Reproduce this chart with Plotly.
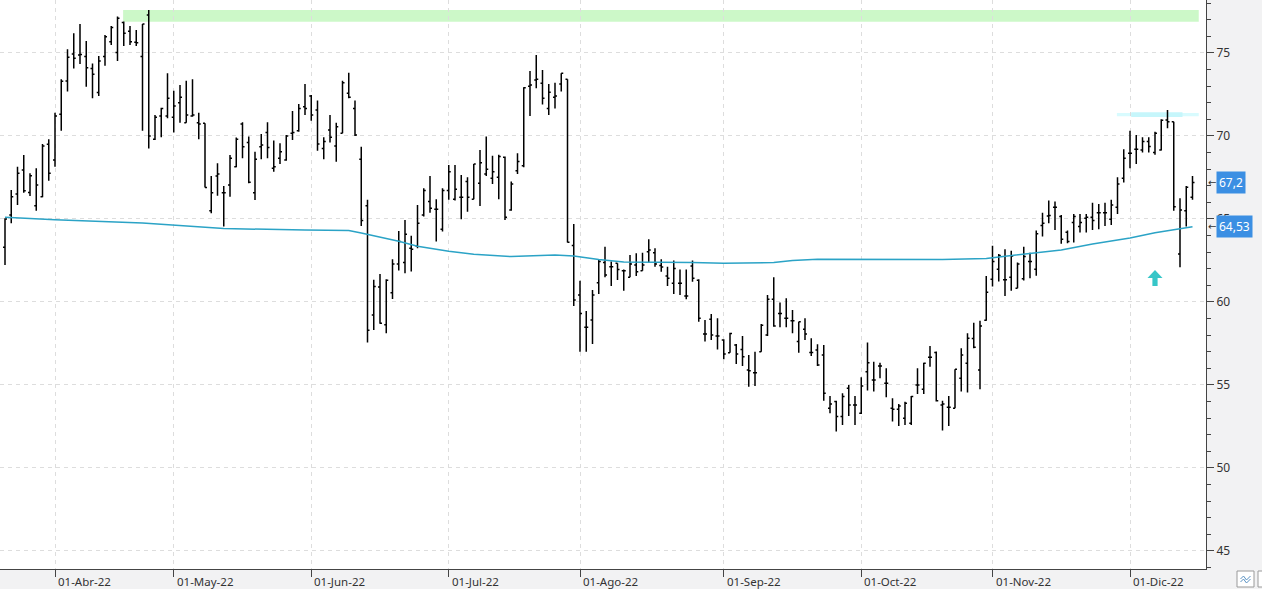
import pandas as pd
import plotly.graph_objects as go

# ---------------- data ----------------
holidays = ["2022-04-15", "2022-04-18"]
dates = [d.strftime("%Y-%m-%d") for d in pd.bdate_range("2022-03-22", "2022-12-15")
         if d.strftime("%Y-%m-%d") not in holidays]

open_ = [63.3, 65.24, 66.5, 67.95, 66.6, 65.8, 66.34, 69.5, 68.55, 71.3,
         73.31, 74.94, 74.88, 74.78, 74.07, 72.61, 74.78, 75.68, 75.02, 76.83,
         76.3, 75.64, 74.78, 77.29, 69.8, 71.2, 71.2, 71.12, 72.0, 70.8,
         71.2, 70.8, 70.76, 65.5, 67.59, 66.58, 67.05, 68.15, 70.72, 69.6,
         66.58, 69.35, 70.2, 68.05, 68.65, 68.55, 70.16, 70.32, 71.76, 72.41,
         71.56, 69.25, 70.36, 69.4, 70.16, 72.57, 71.66, 68.59, 65.8, 59.22,
         60.9, 58.62, 60.56, 62.29, 62.37, 63.23, 63.37, 65.24, 66.05, 65.58,
         64.38, 66.71, 66.19, 66.31, 67.25, 66.19, 67.15, 67.71, 67.45, 67.51,
         68.72, 65.54, 67.91, 68.2, 73.0, 73.37, 73.17, 71.66, 72.33, 73.13,
         73.41, 63.4, 60.42, 58.47, 58.91, 61.16, 62.37, 62.12, 62.33, 61.88,
         61.48, 62.22, 61.88, 63.03, 62.97, 62.2, 61.56, 61.12, 61.12, 60.36,
         62.16, 61.3, 58.07, 58.95, 57.95, 57.71, 56.94, 57.41, 57.14, 55.9,
         55.74, 57.0, 58.01, 60.16, 59.31, 59.01, 58.87, 57.61, 58.35, 56.95,
         57.1, 56.8, 53.59, 54.0, 53.09, 54.8, 53.79, 53.29, 55.8, 55.3,
         56.14, 55.1, 53.59, 53.53, 52.99, 52.69, 55.0, 54.74, 56.66, 56.95,
         53.79, 53.65, 53.59, 55.4, 56.3, 57.8, 55.9, 58.9, 61.37, 61.97,
         61.33, 61.49, 60.82, 61.4, 62.43, 61.97, 64.6, 65.18, 65.7, 65.14,
         64.2, 64.78, 64.54, 65.04, 65.1, 65.38, 65.38, 64.98, 65.7, 67.45,
         68.96, 69.2, 69.16, 69.66, 69.0, 69.16, 70.96, 70.86, 62.89, 65.5,
         66.3]

high = [65.04, 66.74, 68.15, 68.85, 67.75, 68.05, 69.52, 69.8, 71.4, 73.41,
        75.22, 76.18, 76.74, 75.72, 74.37, 74.82, 76.08, 76.62, 77.19, 76.89,
        76.62, 76.38, 76.74, 77.59, 71.26, 71.7, 73.77, 72.73, 73.07, 73.33,
        73.41, 71.4, 70.76, 67.59, 68.35, 66.98, 68.85, 69.9, 70.82, 69.96,
        69.05, 70.12, 70.82, 69.72, 69.56, 70.06, 71.5, 71.92, 73.13, 72.47,
        72.13, 69.92, 71.26, 70.8, 73.33, 73.81, 72.13, 69.35, 66.15, 61.33,
        61.69, 61.37, 62.57, 64.28, 64.94, 63.98, 65.84, 66.85, 67.59, 66.19,
        66.85, 68.25, 68.25, 67.65, 67.51, 68.31, 69.16, 69.96, 68.8, 68.86,
        68.76, 67.25, 68.96, 72.93, 73.91, 74.88, 73.97, 73.13, 73.21, 73.77,
        73.41, 64.69, 61.28, 59.45, 60.72, 62.57, 63.33, 62.43, 62.33, 61.96,
        62.83, 62.93, 62.97, 63.77, 63.23, 62.57, 62.12, 62.49, 61.96, 61.96,
        62.49, 61.36, 58.91, 59.27, 59.01, 57.75, 58.15, 57.47, 57.95, 56.8,
        57.0, 58.67, 60.42, 61.48, 59.96, 60.22, 59.51, 58.81, 59.01, 57.81,
        57.45, 57.41, 54.34, 54.05, 54.5, 55.0, 54.34, 55.46, 57.55, 56.4,
        56.34, 56.0, 54.19, 53.85, 53.99, 54.34, 56.0, 56.34, 57.35, 57.01,
        54.05, 54.34, 55.94, 57.21, 58.11, 58.75, 58.87, 61.56, 63.38, 62.89,
        63.17, 63.09, 62.37, 63.33, 62.97, 64.3, 65.38, 66.11, 66.05, 65.24,
        64.3, 65.3, 65.3, 65.3, 65.98, 65.9, 65.98, 66.15, 67.51, 69.2,
        70.32, 70.06, 69.92, 69.92, 70.26, 71.0, 71.57, 70.86, 66.25, 66.99,
        67.59]

low = [62.23, 64.74, 65.84, 66.58, 66.38, 65.5, 66.3, 67.3, 68.15, 70.32,
       72.67, 74.07, 74.33, 72.97, 72.27, 72.41, 74.23, 75.48, 74.52, 75.42,
       75.48, 75.42, 70.32, 69.25, 69.76, 69.92, 71.06, 70.2, 70.8, 70.8,
       71.16, 69.8, 66.9, 65.34, 66.4, 64.54, 66.34, 68.11, 68.65, 67.15,
       66.14, 68.59, 68.65, 67.85, 68.31, 68.51, 69.76, 70.26, 71.26, 70.92,
       69.11, 68.59, 69.6, 68.45, 70.16, 72.27, 70.0, 64.58, 57.55, 58.31,
       58.68, 58.11, 60.18, 61.89, 61.73, 61.83, 63.23, 65.14, 65.38, 63.64,
       64.24, 66.15, 66.11, 64.98, 65.44, 66.19, 65.78, 67.59, 67.11, 66.19,
       64.94, 65.5, 67.71, 68.11, 71.2, 72.87, 71.9, 71.26, 71.66, 72.67,
       63.58, 59.75, 57.0, 57.0, 57.47, 60.48, 61.48, 60.96, 61.32, 60.68,
       61.48, 61.56, 61.88, 62.37, 62.12, 61.82, 60.96, 60.48, 60.42, 60.16,
       61.22, 58.81, 57.61, 57.71, 57.14, 56.54, 56.94, 56.26, 56.14, 54.89,
       54.93, 57.0, 57.95, 58.51, 58.47, 58.47, 58.11, 56.94, 57.71, 56.74,
       56.14, 54.05, 53.29, 52.19, 52.59, 53.13, 52.59, 53.25, 54.66, 54.6,
       55.4, 54.25, 52.79, 52.53, 52.59, 52.59, 54.46, 54.46, 56.1, 54.0,
       52.25, 52.53, 53.59, 54.6, 54.54, 57.21, 54.74, 58.87, 60.93, 61.23,
       60.36, 60.68, 60.82, 61.29, 61.43, 61.57, 63.94, 64.74, 64.34, 63.5,
       63.54, 63.58, 64.18, 64.18, 64.34, 64.38, 64.58, 64.64, 65.3, 67.19,
       68.05, 68.31, 69.0, 69.0, 68.86, 69.12, 70.46, 65.5, 62.09, 64.54,
       66.15]

close = [65.0, 66.34, 67.75, 66.7, 67.6, 67.05, 69.4, 67.75, 71.2, 73.3,
         74.74, 74.68, 74.9, 74.11, 73.71, 74.52, 75.98, 76.54, 77.09, 76.18,
         75.68, 75.62, 76.74, 70.0, 71.12, 71.66, 72.27, 71.8, 72.33, 71.26,
         71.26, 70.72, 66.9, 66.58, 67.7, 66.58, 68.65, 69.8, 69.35, 67.21,
         68.59, 69.45, 69.3, 68.15, 69.05, 70.0, 70.2, 71.66, 71.66, 71.26,
         69.52, 69.66, 69.92, 70.56, 73.21, 72.33, 70.06, 64.9, 58.3, 60.93,
         58.72, 61.3, 62.29, 63.64, 64.08, 63.17, 64.74, 66.71, 65.64, 65.58,
         66.71, 67.85, 66.79, 66.31, 66.3, 68.31, 68.39, 68.0, 67.85, 68.76,
         65.1, 67.11, 68.46, 72.9, 73.07, 73.41, 72.27, 72.63, 72.41, 73.77,
         63.6, 60.12, 59.31, 58.47, 60.42, 62.43, 61.62, 62.12, 61.96, 61.88,
         62.28, 61.82, 62.22, 63.13, 62.28, 62.1, 61.42, 62.02, 61.12, 60.36,
         61.42, 59.01, 58.07, 58.01, 57.95, 56.86, 58.1, 56.86, 56.7, 55.86,
         55.74, 58.6, 60.16, 58.55, 59.31, 59.01, 58.87, 58.8, 58.07, 56.95,
         56.2, 54.5, 53.85, 53.1, 54.3, 53.79, 53.79, 54.94, 56.34, 55.3,
         56.14, 55.1, 53.53, 53.73, 53.9, 54.3, 55.0, 56.3, 56.66, 54.05,
         53.85, 53.65, 55.94, 56.8, 57.81, 57.27, 58.55, 60.58, 62.43, 62.8,
         61.33, 62.77, 62.29, 62.73, 62.43, 64.1, 64.74, 65.2, 65.7, 63.78,
         63.64, 65.14, 64.78, 65.1, 64.9, 65.38, 65.38, 65.84, 67.11, 68.66,
         68.96, 69.2, 69.66, 69.36, 70.16, 70.95, 70.86, 65.74, 65.54, 66.91,
         67.2]

ma_dates = ["2022-03-22", "2022-04-01", "2022-04-25", "2022-05-12", "2022-05-31",
            "2022-06-09", "2022-06-13", "2022-06-21", "2022-06-24", "2022-07-01",
            "2022-07-07", "2022-07-15", "2022-07-26", "2022-07-29", "2022-08-04",
            "2022-08-10", "2022-08-25", "2022-09-01", "2022-09-13", "2022-09-16",
            "2022-09-22", "2022-10-20", "2022-10-31", "2022-11-03", "2022-11-07",
            "2022-11-16", "2022-11-23", "2022-12-01", "2022-12-07", "2022-12-12",
            "2022-12-15"]
ma_values = [65.1, 64.95, 64.75, 64.42, 64.33,
             64.3, 64.15, 63.65, 63.35, 63.05,
             62.87, 62.73, 62.83, 62.77, 62.55,
             62.4, 62.37, 62.33, 62.37, 62.49,
             62.57, 62.55, 62.62, 62.75, 62.85,
             63.13, 63.49, 63.85, 64.17, 64.33,
             64.53]

month_ticks = ["2022-04-01", "2022-05-02", "2022-06-01", "2022-07-01", "2022-08-01",
               "2022-09-01", "2022-10-03", "2022-11-01", "2022-12-01"]
month_labels = ["01-Abr-22", "01-May-22", "01-Jun-22", "01-Jul-22", "01-Ago-22",
                "01-Sep-22", "01-Oct-22", "01-Nov-22", "01-Dic-22"]

y_ticks = [45, 50, 55, 60, 65, 70, 75]

# bands (resistance zones) : value ranges and index spans
green_band = (76.88, 77.59)
green_span = (18.9, 191.0)
cyan_band = (71.18, 71.38)
cyan_span = (177.9, 191.0)
signal_idx = 184
signal_val = 61.92

last_close = 67.2
last_close_text = "67,2"
last_ma = 64.53
last_ma_text = "64,53"

FONT = "Noto Sans"
PLOT_W = 1206.0
PLOT_H = 569.0

fig = go.Figure()

fig.add_trace(go.Ohlc(
    x=dates, open=open_, high=high, low=low, close=close,
    increasing=dict(line=dict(color="#000000", width=1.5)),
    decreasing=dict(line=dict(color="#000000", width=1.5)),
    tickwidth=0.32, showlegend=False, hoverinfo="skip"))

fig.add_trace(go.Scatter(
    x=ma_dates, y=ma_values, mode="lines",
    line=dict(color="#2ba3c6", width=1.5),
    showlegend=False, hoverinfo="skip"))

shapes = [
    dict(type="rect", xref="x", yref="y", x0=green_span[0], x1=green_span[1],
         y0=green_band[0], y1=green_band[1], fillcolor="#ccf8c8",
         line=dict(width=0), layer="below"),
    dict(type="rect", xref="x", yref="y", x0=cyan_span[0], x1=cyan_span[1],
         y0=cyan_band[0], y1=cyan_band[1], fillcolor="#d8fbfe",
         line=dict(width=0), layer="below"),
    dict(type="rect", xref="x", yref="y", x0=180.2, x1=188.4,
         y0=cyan_band[0] - 0.04, y1=cyan_band[1] + 0.04, fillcolor="#c6f6fb",
         line=dict(width=0), layer="below"),
    # up arrow signal
    dict(type="path", xref="x", yref="y", xsizemode="pixel", ysizemode="pixel",
         xanchor=signal_idx, yanchor=signal_val,
         path="M0,0 L7.5,-8 L2.6,-8 L2.6,-16 L-2.6,-16 L-2.6,-8 L-7.5,-8 Z",
         fillcolor="#36c6c8", line=dict(width=0)),
    # bottom-right little buttons
    dict(type="rect", xref="paper", yref="paper",
         x0=1237 / PLOT_W, x1=1254 / PLOT_W,
         y0=(PLOT_H - 587) / PLOT_H, y1=(PLOT_H - 571) / PLOT_H,
         fillcolor="#ffffff", line=dict(color="#9a9a9a", width=1)),
    dict(type="rect", xref="paper", yref="paper",
         x0=1258 / PLOT_W, x1=1270 / PLOT_W,
         y0=(PLOT_H - 587) / PLOT_H, y1=(PLOT_H - 571) / PLOT_H,
         fillcolor="#ffffff", line=dict(color="#9a9a9a", width=1)),
    dict(type="path", xref="paper", yref="paper", xsizemode="pixel", ysizemode="pixel",
         xanchor=1245.5 / PLOT_W, yanchor=(PLOT_H - 579) / PLOT_H,
         path="M-5,0 L-2,3 L1,-1 L5,3 M-5,-3 L-2,0 L1,-4 L5,0",
         line=dict(color="#5b93c4", width=1)),
]

annotations = []
for d, lab in zip(month_ticks, month_labels):
    annotations.append(dict(x=d, xref="x", y=0, yref="paper", text=lab,
                            showarrow=False, xanchor="left", yanchor="top",
                            xshift=1, yshift=-3,
                            font=dict(family=FONT, size=11.5, color="#333333")))

for val, txt in [(last_close, last_close_text), (last_ma, last_ma_text)]:
    annotations.append(dict(x=1211.5 / PLOT_W, xref="paper", y=val, yref="y",
                            text="←", showarrow=False, xanchor="center",
                            yanchor="middle",
                            font=dict(family="DejaVu Sans", size=10, color="#333333")))
    annotations.append(dict(x=1216 / PLOT_W, xref="paper", y=val, yref="y",
                            text=txt, showarrow=False, xanchor="left",
                            yanchor="middle", bgcolor="#3b8fe3", borderpad=2,
                            font=dict(family=FONT, size=12, color="#ffffff")))

fig.update_layout(
    width=1262, height=589,
    margin=dict(l=0, r=1262 - PLOT_W, t=0, b=589 - PLOT_H),
    paper_bgcolor="#f2f2f3", plot_bgcolor="#ffffff",
    font=dict(family=FONT, size=12, color="#333333"),
    shapes=shapes, annotations=annotations,
    xaxis=dict(
        type="category", categoryorder="array", categoryarray=dates,
        range=[-0.8, 192.16], rangeslider=dict(visible=False),
        tickmode="array", tickvals=month_ticks, ticktext=[""] * len(month_ticks),
        ticks="outside", ticklen=7, tickcolor="#444444",
        showgrid=True, gridcolor="#dddddd", griddash="4px,4px", gridwidth=1,
        showline=True, linecolor="#444444", linewidth=1,
        zeroline=False, fixedrange=True),
    yaxis=dict(
        side="right", range=[43.91, 78.19],
        tickmode="array", tickvals=y_ticks,
        ticks="outside", ticklen=7, tickcolor="#444444",
        minor=dict(dtick=1, tick0=0, ticks="outside", ticklen=4,
                   tickcolor="#444444", showgrid=False),
        showgrid=True, gridcolor="#dddddd", griddash="4px,4px", gridwidth=1,
        showline=True, linecolor="#444444", linewidth=1,
        zeroline=False, tickfont=dict(family=FONT, size=12, color="#333333")),
)

fig.write_html(
    "out.html",
    config={"displayModeBar": False},
    post_script="document.body.style.margin='0';document.body.style.overflow='hidden';",
)
